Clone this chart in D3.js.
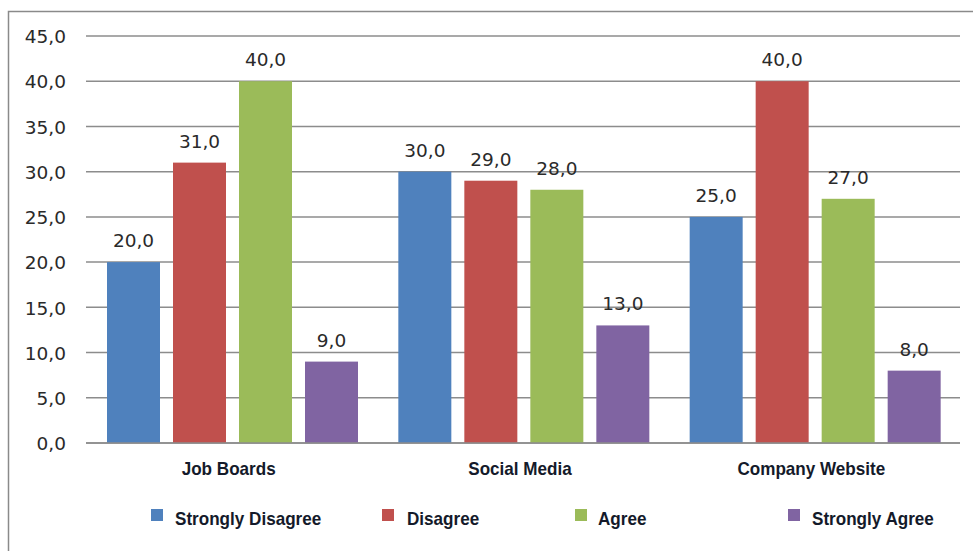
<!DOCTYPE html>
<html><head><meta charset="utf-8">
<script src="https://cdn.jsdelivr.net/npm/d3@7"></script>
<style>body{margin:0;background:#fff}svg{display:block}</style>
</head><body>
<svg id="c" width="973" height="551"></svg>
<script>
const categories = ["Job Boards", "Social Media", "Company Website"];
const seriesNames = ["Strongly Disagree", "Disagree", "Agree", "Strongly Agree"];
const stronglyDisagree = [20, 30, 25];
const disagree = [31, 29, 40];
const agree = [40, 28, 27];
const stronglyAgree = [9, 13, 8];
const yTicks = [0, 5, 10, 15, 20, 25, 30, 35, 40, 45];
const colors = ["#4F81BD", "#C0504D", "#9BBB59", "#8064A2"];
const seriesValues = [stronglyDisagree, disagree, agree, stronglyAgree];

const svg = d3.select("#c");
svg.append("rect").attr("x", 8.5).attr("y", 11.5).attr("width", 980).attr("height", 560)
  .attr("fill", "#fff").attr("stroke", "#8a8a8a").attr("stroke-width", 1.5);

const pL = 86, pR = 960, pT = 36, pB = 443;
const y = d3.scaleLinear().domain([0, 45]).range([pB, pT]);
const x0 = d3.scaleBand().domain(categories).range([pL, pR]).paddingInner(0).paddingOuter(0);
const x1 = d3.scaleBand().domain(seriesNames).range([21, 272]).paddingInner(0.197).paddingOuter(0);

const yAxis = d3.axisLeft(y).tickValues(yTicks).tickSize(0).tickPadding(0)
  .tickFormat(d => d.toFixed(1).replace(".", ","));
const gy = svg.append("g").attr("transform", `translate(${pL - 20},0)`).call(yAxis);
gy.select(".domain").remove();
gy.selectAll("text").attr("font-family", "DejaVu Sans, Verdana, sans-serif")
  .attr("font-size", 18.5).attr("fill", "#2a2a2a").attr("dy", "0.36em");

svg.append("g").selectAll("line").data(yTicks).join("line")
  .attr("x1", pL).attr("x2", pR).attr("y1", d => y(d)).attr("y2", d => y(d))
  .attr("stroke", "#8c8c8c").attr("stroke-width", 1.5);

const groups = svg.append("g").selectAll("g").data(categories).join("g")
  .attr("transform", d => `translate(${x0(d)},0)`);

groups.each(function(cat, ci) {
  const g = d3.select(this);
  seriesNames.forEach((s, si) => {
    const v = seriesValues[si][ci];
    g.append("rect").attr("x", x1(s)).attr("width", x1.bandwidth())
      .attr("y", y(v)).attr("height", y(0) - y(v)).attr("fill", colors[si]);
    g.append("text").attr("x", x1(s) + x1.bandwidth() / 2).attr("y", y(v) - 15)
      .attr("text-anchor", "middle").attr("font-family", "DejaVu Sans, Verdana, sans-serif")
      .attr("font-size", 18.5).attr("fill", "#2a2a2a").text(v.toFixed(1).replace(".", ","));
  });
});

svg.append("line").attr("x1", pL).attr("x2", pR).attr("y1", y(0)).attr("y2", y(0))
  .attr("stroke", "#8c8c8c").attr("stroke-width", 1.5);

// category labels
svg.append("g").selectAll("text").data(categories).join("text")
  .attr("transform", d => `translate(${x0(d) + x0.bandwidth() / 2 - 3},${pB + 32}) scale(0.95,1)`)
  .attr("text-anchor", "middle")
  .attr("font-family", "Liberation Sans, Arial, sans-serif")
  .attr("font-weight", "bold").attr("font-size", 18).attr("fill", "#141a2a").text(d => d);

const legendX = [151, 382, 575, 788];
const legendTextX = [175, 407, 598, 812];
const lg = svg.append("g");
seriesNames.forEach((s, i) => {
  lg.append("rect").attr("x", legendX[i]).attr("y", 509).attr("width", 12).attr("height", 12).attr("fill", colors[i]);
  lg.append("text").attr("transform", `translate(${legendTextX[i]},525) scale(0.95,1)`)
    .attr("font-family", "Liberation Sans, Arial, sans-serif").attr("font-weight", "bold")
    .attr("font-size", 18).attr("fill", "#141a2a").text(s);
});
</script>
</body></html>
